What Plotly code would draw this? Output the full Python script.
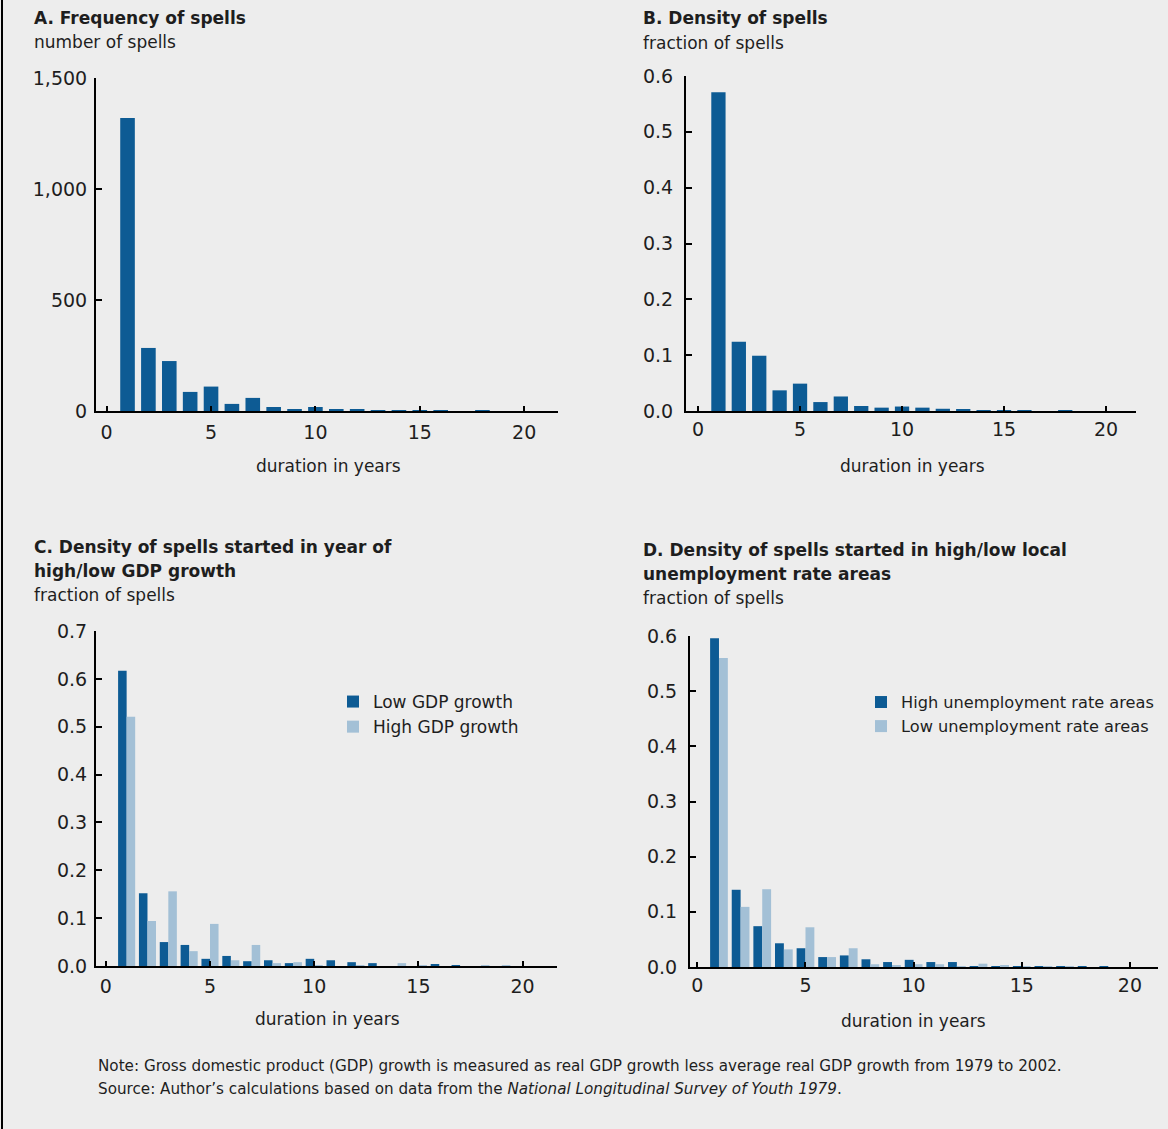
import plotly.graph_objects as go

W, H = 1168, 1129

years = list(range(1, 20))

freq_spells = [1320, 284, 225, 86, 110, 32, 59, 18, 9, 18, 9, 9, 4, 3, 3, 3, 0, 2, 0]
dens_spells = [0.571, 0.124, 0.099, 0.037, 0.049, 0.016, 0.026, 0.009, 0.006, 0.008,
               0.006, 0.004, 0.003, 0.001, 0.001, 0.001, 0.0, 0.001, 0.0]
dens_low_gdp = [0.617, 0.152, 0.050, 0.044, 0.015, 0.021, 0.010, 0.012, 0.006, 0.015,
                0.012, 0.008, 0.006, 0.0, 0.0, 0.004, 0.002, 0.0, 0.0]
dens_high_gdp = [0.521, 0.094, 0.156, 0.031, 0.088, 0.012, 0.044, 0.006, 0.008, 0.002,
                 0.0, 0.002, 0.0, 0.006, 0.002, 0.0, 0.0, 0.001, 0.001]
dens_high_unemp = [0.596, 0.140, 0.074, 0.043, 0.034, 0.018, 0.021, 0.014, 0.009, 0.013,
                   0.009, 0.009, 0.001, 0.001, 0.001, 0.001, 0.001, 0.001, 0.001]
dens_low_unemp = [0.560, 0.109, 0.141, 0.032, 0.072, 0.018, 0.034, 0.005, 0.003, 0.005,
                  0.005, 0.001, 0.006, 0.003, 0.001, 0.001, 0.001, 0.0, 0.0]

x_ticks = [0, 5, 10, 15, 20]
yticks_A = [0, 500, 1000, 1500]
yticks_B = [0.0, 0.1, 0.2, 0.3, 0.4, 0.5, 0.6]
yticks_C = [0.0, 0.1, 0.2, 0.3, 0.4, 0.5, 0.6, 0.7]
yticks_D = [0.0, 0.1, 0.2, 0.3, 0.4, 0.5, 0.6]

DARK = "#0d5b94"
LIGHT = "#a3c0d6"
BG = "#ededed"
TXT = "#1e1e1e"
FONT = "DejaVu Sans"


def px_x(p):
    return p / W


def px_y(p):
    return 1 - p / H


fig = go.Figure()

fig.add_trace(go.Bar(x=years, y=freq_spells, marker=dict(color=DARK, line=dict(width=0)),
                     width=0.7, xaxis="x", yaxis="y", showlegend=False))
fig.add_trace(go.Bar(x=years, y=dens_spells, marker=dict(color=DARK, line=dict(width=0)),
                     width=0.7, xaxis="x2", yaxis="y2", showlegend=False))
fig.add_trace(go.Bar(x=years, y=dens_low_gdp, name="Low GDP growth",
                     marker=dict(color=DARK, line=dict(width=0)),
                     xaxis="x3", yaxis="y3", legend="legend"))
fig.add_trace(go.Bar(x=years, y=dens_high_gdp, name="High GDP growth",
                     marker=dict(color=LIGHT, line=dict(width=0)),
                     xaxis="x3", yaxis="y3", legend="legend"))
fig.add_trace(go.Bar(x=years, y=dens_high_unemp, name="High unemployment rate areas",
                     marker=dict(color=DARK, line=dict(width=0)),
                     xaxis="x4", yaxis="y4", legend="legend2"))
fig.add_trace(go.Bar(x=years, y=dens_low_unemp, name="Low unemployment rate areas",
                     marker=dict(color=LIGHT, line=dict(width=0)),
                     xaxis="x4", yaxis="y4", legend="legend2"))

# panel geometry in pixels: (left, right, top, bottom), x range
panels = {
    "1": dict(xd=(96, 558), yd=(78, 411), xr=(-0.51, 21.62), yr=(0, 1500), yt=yticks_A,
              fmt=",d", xs=3, ys=3),
    "2": dict(xd=(686, 1136), yd=(76, 411), xr=(-0.59, 21.47), yr=(0, 0.6), yt=yticks_B,
              fmt=".1f", xs=0, ys=7),
    "3": dict(xd=(96, 557), yd=(631, 966), xr=(-0.47, 21.65), yr=(0, 0.7), yt=yticks_C,
              fmt=".1f", xs=2, ys=3),
    "4": dict(xd=(690, 1158), yd=(636, 967), xr=(-0.34, 21.3), yr=(0, 0.6), yt=yticks_D,
              fmt=".1f", xs=0, ys=7),
}

layout_axes = {}
for k, p in panels.items():
    suffix = "" if k == "1" else k
    layout_axes["xaxis" + suffix] = dict(
        domain=[px_x(p["xd"][0]), px_x(p["xd"][1])], range=list(p["xr"]),
        anchor="y" + suffix, tickmode="array", tickvals=x_ticks,
        ticks="inside", ticklen=5, tickwidth=2, tickcolor="black",
        showline=True, linecolor="black", linewidth=2, showgrid=False, zeroline=False,
        tickfont=dict(family=FONT, size=19, color=TXT), fixedrange=True,
        ticklabelstandoff=p["xs"],
    )
    layout_axes["yaxis" + suffix] = dict(
        domain=[px_y(p["yd"][1]), px_y(p["yd"][0])], range=list(p["yr"]),
        anchor="x" + suffix, tickmode="array", tickvals=p["yt"], tickformat=p["fmt"],
        ticks="inside", ticklen=6, tickwidth=2, tickcolor="black",
        showline=True, linecolor="black", linewidth=2, showgrid=False, zeroline=False,
        tickfont=dict(family=FONT, size=19, color=TXT), fixedrange=True,
        ticklabelstandoff=p["ys"],
    )

annotations = []


def text(x, y, s, size=17, bold=False, anchor="left"):
    if bold:
        s = "<b>" + s + "</b>"
    annotations.append(dict(xref="paper", yref="paper", x=px_x(x), y=px_y(y), text=s,
                            showarrow=False, xanchor=anchor, yanchor="middle",
                            font=dict(family=FONT, size=size, color=TXT)))


text(32, 18, "A. Frequency of spells", bold=True)
text(32, 42, "number of spells")
text(641, 18, "B. Density of spells", bold=True)
text(641, 43, "fraction of spells")
text(32, 547, "C. Density of spells started in year of", bold=True)
text(32, 571, "high/low GDP growth", bold=True)
text(32, 595, "fraction of spells")
text(641, 550, "D. Density of spells started in high/low local", bold=True)
text(641, 574, "unemployment rate areas", bold=True)
text(641, 598, "fraction of spells")
text(328, 466, "duration in years", anchor="center")
text(912, 466, "duration in years", anchor="center")
text(327, 1019, "duration in years", anchor="center")
text(913, 1021, "duration in years", anchor="center")
text(96, 1066, "Note: Gross domestic product (GDP) growth is measured as real GDP growth less average real GDP growth from 1979 to 2002.", size=15.2)
text(96, 1089, "Source: Author\u2019s calculations based on data from the <i>National Longitudinal Survey of Youth 1979</i>.", size=15.2)

fig.update_layout(
    width=W, height=H,
    margin=dict(l=0, r=0, t=0, b=0, autoexpand=False),
    paper_bgcolor=BG, plot_bgcolor=BG,
    barmode="group", bargap=0.18, bargroupgap=0.0,
    font=dict(family=FONT, size=17, color=TXT),
    annotations=annotations,
    legend=dict(x=px_x(333), y=px_y(684), xanchor="left", yanchor="top",
                bgcolor="rgba(0,0,0,0)", font=dict(family=FONT, size=17, color=TXT),
                tracegroupgap=0, itemclick=False, itemdoubleclick=False),
    legend2=dict(x=px_x(861), y=px_y(685), xanchor="left", yanchor="top",
                 bgcolor="rgba(0,0,0,0)", font=dict(family=FONT, size=16.2, color=TXT),
                 tracegroupgap=0, itemclick=False, itemdoubleclick=False),
    shapes=[dict(type="line", xref="paper", yref="paper", x0=px_x(2), x1=px_x(2), y0=0, y1=1,
                 line=dict(color="black", width=2))],
    **layout_axes,
)

fig.write_html("out.html", config={"displayModeBar": False},
               post_script="document.body.style.margin='0';document.body.style.overflow='hidden';")
